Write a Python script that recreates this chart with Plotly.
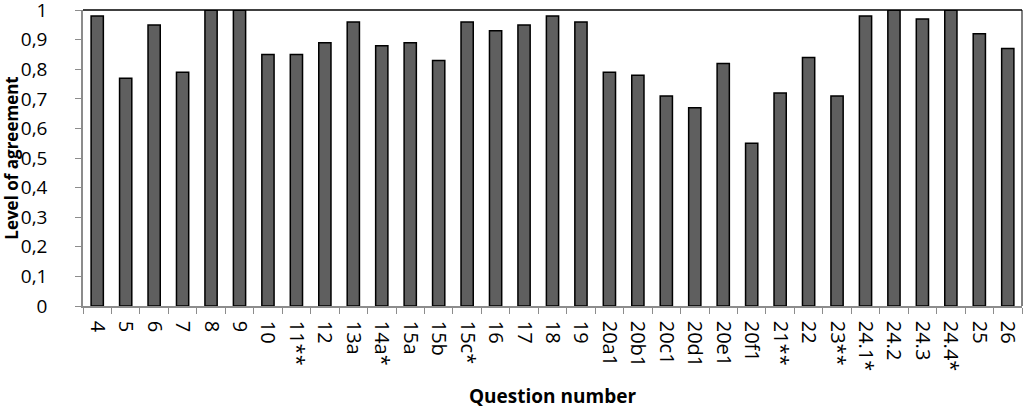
import plotly.graph_objects as go

categories = ["4", "5", "6", "7", "8", "9", "10", "11**", "12", "13a", "14a*", "15a", "15b",
              "15c*", "16", "17", "18", "19", "20a1", "20b1", "20c1", "20d1", "20e1", "20f1",
              "21**", "22", "23**", "24.1*", "24.2", "24.3", "24.4*", "25", "26"]
agreement = [0.98, 0.77, 0.95, 0.79, 1.0, 1.0, 0.85, 0.85, 0.89, 0.96, 0.88, 0.89, 0.83,
             0.96, 0.93, 0.95, 0.98, 0.96, 0.79, 0.78, 0.71, 0.67, 0.82, 0.55,
             0.72, 0.84, 0.71, 0.98, 1.0, 0.97, 1.0, 0.92, 0.87]
yticks = [0, 0.1, 0.2, 0.3, 0.4, 0.5, 0.6, 0.7, 0.8, 0.9, 1]

FONT = "Open Sans"

fig = go.Figure(go.Bar(
    x=categories, y=agreement,
    marker=dict(color="#5f5f5f", line=dict(color="black", width=1.5)),
))

fig.update_layout(
    width=1024, height=409,
    margin=dict(l=83, r=2, t=10, b=103),
    plot_bgcolor="white", paper_bgcolor="white",
    bargap=0.57,
    separators=",.",
    showlegend=False,
    font=dict(family=FONT, color="black"),
    shapes=[
        dict(type="line", xref="paper", yref="paper", x0=0, x1=1, y0=1, y1=1,
             line=dict(color="black", width=1.5)),
        dict(type="line", xref="paper", yref="paper", x0=1, x1=1, y0=0, y1=1,
             line=dict(color="black", width=1)),
    ],
)
fig.update_xaxes(
    type="category", tickangle=90, tickson="boundaries",
    ticks="outside", ticklen=6, tickcolor="#8c8c8c",
    showline=True, linecolor="#8c8c8c", linewidth=1.5,
    tickfont=dict(size=20, family=FONT), ticklabelstandoff=9,
    title=dict(text="<b>Question number</b>", font=dict(size=19, family=FONT), standoff=21),
)
fig.update_yaxes(
    range=[0, 1.0005], tickvals=yticks,
    ticks="outside", ticklen=6, tickcolor="#8c8c8c",
    showline=True, linecolor="#8c8c8c", linewidth=1.5,
    showgrid=False, zeroline=False,
    tickfont=dict(size=19, family=FONT), ticklabelstandoff=24,
    ticklabeloverflow="allow", automargin="left",
    title=dict(text="<b>Level of agreement</b>", font=dict(size=17, family=FONT), standoff=8),
)

fig.write_html("out.html", config={"displayModeBar": False},
               post_script="document.body.style.margin='0';")
